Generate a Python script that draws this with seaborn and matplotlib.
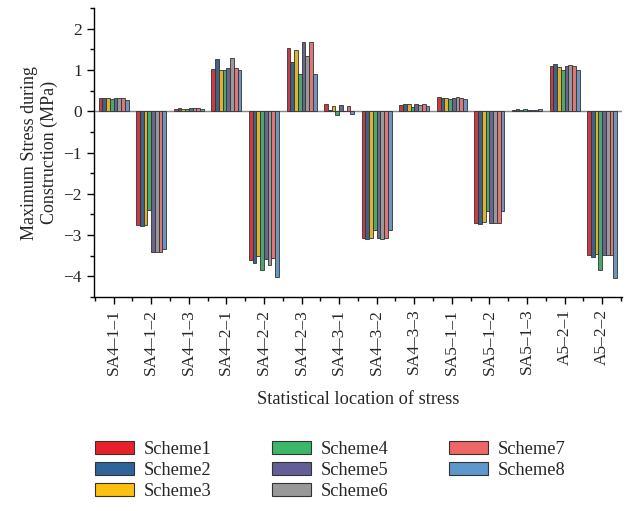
import numpy as np
import pandas as pd
import matplotlib
matplotlib.use("Agg")
import matplotlib.pyplot as plt
import seaborn as sns
from matplotlib.ticker import MultipleLocator
from matplotlib.patches import Patch

# locations (x categories)
locations = ["SA4–1–1", "SA4–1–2", "SA4–1–3", "SA4–2–1", "SA4–2–2", "SA4–2–3",
             "SA4–3–1", "SA4–3–2", "SA4–3–3", "SA5–1–1", "SA5–1–2", "SA5–1–3",
             "A5–2–1", "A5–2–2"]
schemes = ["Scheme1", "Scheme2", "Scheme3", "Scheme4",
           "Scheme5", "Scheme6", "Scheme7", "Scheme8"]

# maximum stress (MPa), one list per scheme
scheme1 = [0.33, -2.75, 0.06, 1.02, -3.61, 1.54, 0.17, -3.07, 0.15, 0.34, -2.70, 0.03, 1.11, -3.49]
scheme2 = [0.33, -2.78, 0.09, 1.27, -3.69, 1.19, 0.02, -3.10, 0.17, 0.33, -2.73, 0.06, 1.15, -3.53]
scheme3 = [0.32, -2.75, 0.06, 1.01, -3.51, 1.48, 0.13, -3.07, 0.17, 0.33, -2.69, 0.03, 1.07, -3.46]
scheme4 = [0.30, -2.39, 0.06, 1.00, -3.85, 0.91, -0.09, -2.88, 0.11, 0.30, -2.42, 0.06, 1.01, -3.85]
scheme5 = [0.32, -3.42, 0.08, 1.05, -3.59, 1.69, 0.15, -3.08, 0.17, 0.33, -2.70, 0.02, 1.10, -3.48]
scheme6 = [0.32, -3.42, 0.09, 1.29, -3.72, 1.35, 0.01, -3.10, 0.16, 0.34, -2.72, 0.03, 1.12, -3.49]
scheme7 = [0.32, -3.41, 0.07, 1.05, -3.55, 1.67, 0.13, -3.07, 0.18, 0.33, -2.72, 0.02, 1.11, -3.49]
scheme8 = [0.28, -3.34, 0.06, 1.00, -4.02, 0.91, -0.06, -2.87, 0.12, 0.29, -2.42, 0.06, 1.01, -4.03]

colors = ["#E8202A", "#2E6499", "#FDC010", "#3CB669",
          "#635E96", "#999999", "#EE6666", "#5E97CB"]

all_vals = [scheme1, scheme2, scheme3, scheme4, scheme5, scheme6, scheme7, scheme8]
df = pd.DataFrame({
    "location": locations * len(schemes),
    "scheme": np.repeat(schemes, len(locations)),
    "stress": np.concatenate(all_vals),
})

sns.set_theme(style="ticks")
plt.rcParams["font.family"] = ["Liberation Serif", "DejaVu Serif"]
plt.rcParams["font.size"] = 12

fig = plt.figure(figsize=(6.29, 5.11), dpi=100)
ax = fig.add_axes([0.149, 0.419, 0.84, 0.565])

sns.barplot(data=df, x="location", y="stress", hue="scheme", palette=colors,
            order=locations, hue_order=schemes, width=0.8,
            edgecolor="#333333", linewidth=0.6, legend=False, ax=ax)

ax.axhline(0, color="#888888", lw=1, zorder=0.5)
ax.set_xlim(-0.53, len(locations) - 0.47)
ax.set_ylim(-4.5, 2.5)
ax.yaxis.set_major_locator(MultipleLocator(1))
ax.yaxis.set_minor_locator(MultipleLocator(0.5))
ax.set_xticks(np.arange(-0.5, len(locations), 1), minor=True)
ax.set_xticks(range(len(locations)))
ax.set_xticklabels(locations, rotation=90, fontsize=12.5)
ax.tick_params(axis="both", which="major", direction="out", length=5, width=1,
               color="black", labelsize=12.5)
ax.tick_params(axis="both", which="minor", direction="out", length=3, width=1,
               color="black")
for s in ["top", "right"]:
    ax.spines[s].set_visible(False)
for s in ["left", "bottom"]:
    ax.spines[s].set_color("black")
    ax.spines[s].set_linewidth(1)

ax.set_xlabel("Statistical location of stress", fontsize=13.2, labelpad=12)
ax.set_ylabel("Maximum Stress during\nConstruction (MPa)", fontsize=13)

handles = [Patch(facecolor=c, edgecolor="#333333", linewidth=0.8) for c in colors]
fig.legend(handles, schemes, loc="upper left", bbox_to_anchor=(0.14, 0.152),
           ncol=3, frameon=False, fontsize=13.2, handlelength=2.1,
           handleheight=0.7, labelspacing=0.22, columnspacing=3.3,
           handletextpad=0.55, borderaxespad=0)

fig.savefig("out.png", dpi=100)
